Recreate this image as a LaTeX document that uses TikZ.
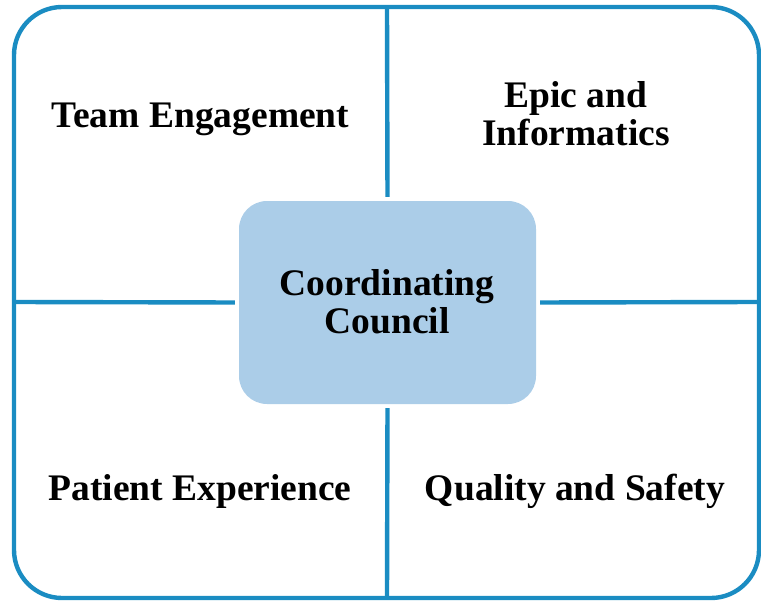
\documentclass[tikz,border=0pt]{standalone}
\usepackage{fontspec}
\setmainfont{Liberation Serif}
\begin{document}
\begin{tikzpicture}[x=1pt,y=-1pt,
  frame/.style={draw=lineblue,line width=4.4pt,rounded corners=48pt},
  divider/.style={draw=lineblue,line width=4.4pt},
  council/.style={fill=boxblue,draw=none,rounded corners=28pt,minimum width=297pt,minimum height=203pt,inner sep=0pt},
  label/.style={font=\fontsize{37.5}{38}\selectfont\bfseries,align=center,inner sep=0pt}]
\definecolor{lineblue}{HTML}{1A8CC2}
\definecolor{boxblue}{HTML}{ABCDE8}
\useasboundingbox (0,0) rectangle (761,602);
% outer frame
\draw[frame] (14,7) rectangle (759,598);
\coordinate (top) at (387,7);
\coordinate (bottom) at (387,598);
\coordinate (left) at (14,302);
\coordinate (right) at (759,302);
% central box
\node[council] (cc) at (387.5,302.5) {};
\node[label,anchor=base] (cctext) at (387,333) {Coordinating\\Council};
% dividers, stopping short of the central box
\draw[divider,shorten >=4pt] (top) -- (cc.north);
\draw[divider,shorten >=4pt] (bottom) -- (cc.south);
\draw[divider,shorten >=4pt] (left) -- (cc.west);
\draw[divider,shorten >=4pt] (right) -- (cc.east);
% quadrant labels
\node[label,anchor=base] (team) at (200.5,128) {Team Engagement};
\node[label,anchor=base] (epic) at (576,145) {Epic and\\Informatics};
\node[label,anchor=base] (patient) at (200,500) {Patient Experience};
\node[label,anchor=base] (quality) at (575,500) {Quality and Safety};
\end{tikzpicture}
\end{document}
